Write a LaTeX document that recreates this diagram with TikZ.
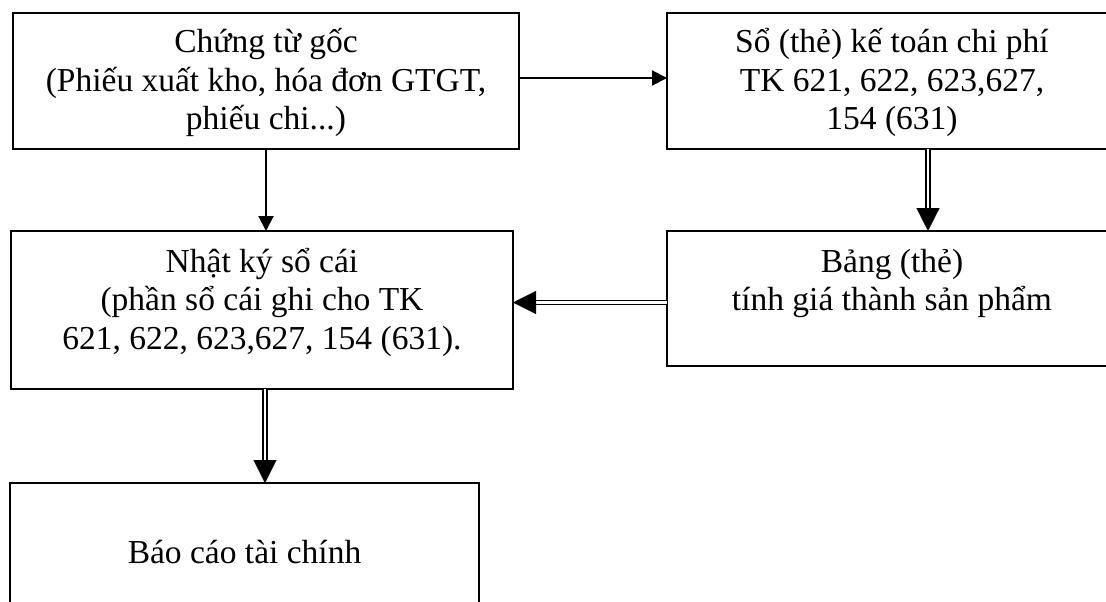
\documentclass[tikz,border=0pt]{standalone}
\usepackage{fontspec}
\setmainfont{Liberation Serif}
\usepackage{tikz}
\usetikzlibrary{arrows.meta}
\usetikzlibrary{calc}

% box content: width, height, height of first line, text
\newcommand{\flowtext}[4]{\parbox[c][#2][t]{#1}{\centering\rule{0pt}{#3}#4}}

\begin{document}
\begin{tikzpicture}[x=1pt, y=-1pt,
        box_style/.style={draw=black, line width=1.6pt, inner sep=0pt, outer sep=0pt, anchor=north west, font=\fontsize{33.5}{38.5}\selectfont},
        edge_style/.style={draw=black, line width=2pt, -{Triangle[length=15pt,width=15pt]}},
        dbl_edge_style/.style={draw=black, line width=1.6pt, double=white, double distance=2.6pt, shorten >=22pt},
        dbl_tip_style/.style={draw=white, line width=0.3pt, -{Triangle[length=23pt,width=23pt,color=black]}}]

        \useasboundingbox (0,0) rectangle (1106,602);

        \node [box_style](n_a) at (13,13) {\flowtext{506pt}{136pt}{40pt}{Chứng từ gốc\\(Phiếu xuất kho, hóa đơn GTGT,\\phiếu chi...)}};

        \node [box_style](n_b) at (667,13) {\flowtext{450pt}{136pt}{40pt}{Sổ (thẻ) kế toán chi phí\\TK 621, 622, 623,627,\\154 (631)}};

        \node [box_style](n_c) at (11,231) {\flowtext{502pt}{158pt}{41pt}{Nhật ký sổ cái\\(phần sổ cái ghi cho TK\\621, 622, 623,627, 154 (631).}};

        \node [box_style](n_d) at (667,231) {\flowtext{450pt}{135pt}{41pt}{Bảng (thẻ)\\tính giá thành sản phẩm}};

        \node [box_style](n_e) at (10,483) {\flowtext{469pt}{140pt}{80pt}{Báo cáo tài chính}};

        \draw [edge_style] ([yshift=3pt]n_a.east) -- ([yshift=3pt]n_a.east -| n_b.west);

        \draw [edge_style] (n_a.south) -- (n_a.south |- n_c.north);

        \draw [dbl_edge_style] ([xshift=36pt]n_b.south) -- ([xshift=36pt]n_b.south |- n_d.north);
        \draw [dbl_tip_style] ([xshift=36pt]n_b.south) -- ([xshift=36pt]n_b.south |- n_d.north);

        \draw [dbl_edge_style] ([yshift=-4pt]n_d.west) -- ([yshift=-4pt]n_d.west -| n_c.east);
        \draw [dbl_tip_style] ([yshift=-4pt]n_d.west) -- ([yshift=-4pt]n_d.west -| n_c.east);

        \draw [dbl_edge_style] ([xshift=3pt]n_c.south) -- ([xshift=3pt]n_c.south |- n_e.north);
        \draw [dbl_tip_style] ([xshift=3pt]n_c.south) -- ([xshift=3pt]n_c.south |- n_e.north);

\end{tikzpicture}
\end{document}
